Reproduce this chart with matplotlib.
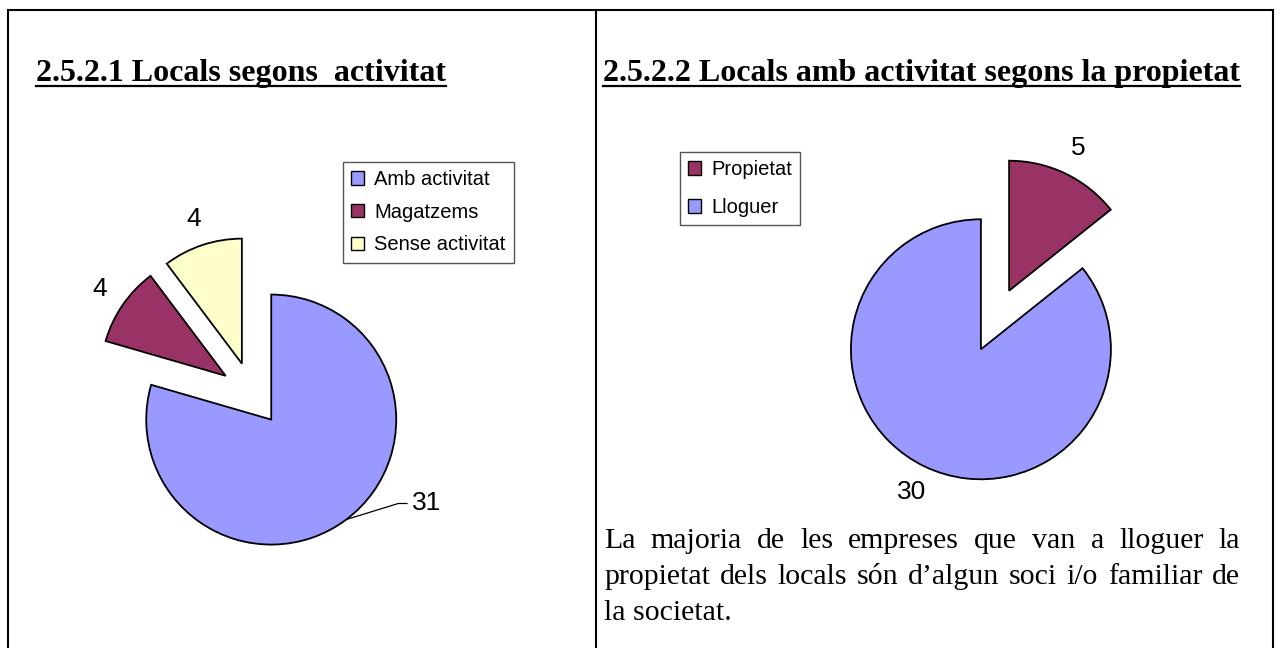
import numpy as np
import matplotlib
matplotlib.use('Agg')
import matplotlib.pyplot as plt
from matplotlib.patches import Patch

W, H = 1280, 648

# chart data
left_title = '2.5.2.1 Locals segons  activitat'
left_labels = ['Amb activitat', 'Magatzems', 'Sense activitat']
left_values = [31, 4, 4]
left_colors = ['#9999FF', '#993366', '#FFFFCC']

right_title = '2.5.2.2 Locals amb activitat segons la propietat'
right_labels = ['Propietat', 'Lloguer']
right_values = [5, 30]
right_colors = ['#993366', '#9999FF']

note_lines = ['La majoria de les empreses que van a lloguer la',
              'propietat dels locals són d\u2019algun soci i/o familiar de',
              'la societat.']

fig = plt.figure(figsize=(W / 100, H / 100), dpi=100)
ov = fig.add_axes([0, 0, 1, 1])
ov.set_xlim(0, W)
ov.set_ylim(H, 0)
ov.axis('off')

# table borders (no bottom line, it is cut off)
ov.plot([8, 8, 1273, 1273], [H, 10, 10, H], color='black', lw=1.5,
        solid_joinstyle='miter')
ov.plot([596, 596], [10, H], color='black', lw=1.5)

fig.canvas.draw()
rend = fig.canvas.get_renderer()


def underlined(x, y, s):
    t = ov.text(x, y, s, family='Liberation Serif', weight='bold',
                fontsize=23, ha='left', va='baseline')
    w = t.get_window_extent(renderer=rend).width
    ov.plot([x, x + w], [y + 5, y + 5], color='black', lw=1.6)


underlined(36, 81, left_title)
underlined(603, 81, right_title)

# justified paragraph
x0, x1 = 604, 1240
for i, line in enumerate(note_lines):
    y = 548 + i * 36
    if i == len(note_lines) - 1:
        ov.text(x0, y, line, family='Liberation Serif', fontsize=21.5, va='baseline')
        continue
    words = line.split(' ')
    ts = [ov.text(0, y, w, family='Liberation Serif', fontsize=21.5, va='baseline')
          for w in words]
    widths = [t.get_window_extent(renderer=rend).width for t in ts]
    gap = (x1 - x0 - sum(widths)) / (len(words) - 1)
    x = x0
    for t, w in zip(ts, widths):
        t.set_x(x)
        x += w + gap


def pie_panel(cx, cy, rad, values, colors, expl):
    half = 230
    ax = fig.add_axes([(cx - half) / W, (H - cy - half) / H, 2 * half / W, 2 * half / H])
    wedges, texts = ax.pie(values, colors=colors, explode=[expl] * len(values),
                           startangle=90, counterclock=False,
                           labels=[str(v) for v in values], labeldistance=1.22,
                           wedgeprops=dict(edgecolor='black', linewidth=1.3),
                           textprops=dict(family='Liberation Sans', fontsize=19,
                                          ha='center', va='center'))
    lim = half / rad
    ax.set_xlim(-lim, lim)
    ax.set_ylim(-lim, lim)
    ax.set_aspect('auto')
    ax.patch.set_visible(False)
    return ax, wedges, texts


def add_legend(ax, labels, colors, x, y, spacing):
    handles = [Patch(facecolor=c, edgecolor='black', lw=1) for c in colors]
    leg = ax.legend(handles, labels, loc='upper left', bbox_to_anchor=(x / W, 1 - y / H),
                    bbox_transform=fig.transFigure, borderaxespad=0,
                    prop=dict(family='Liberation Sans', size=14.5),
                    handlelength=0.65, handleheight=0.65, handletextpad=0.5,
                    borderpad=0.4, labelspacing=spacing, fancybox=False,
                    edgecolor='#555555', framealpha=1)
    leg.get_frame().set_linewidth(1)


# left pie
axl, wl, tl = pie_panel(252, 394, 125, left_values, left_colors, 0.256)
add_legend(axl, left_labels, left_colors, 343, 162, 0.68)
w0 = wl[0]
th = np.radians((w0.theta1 + w0.theta2) / 2)
px = w0.center[0] + w0.r * np.cos(th)
py = w0.center[1] + w0.r * np.sin(th)
tx, ty = 1.28, -0.876
tl[0].set_position((tx, ty))
tl[0].set_ha('left')
axl.plot([px, tx - 0.11, tx - 0.04], [py, ty, ty], color='black', lw=0.9)

# right pie
axr, wr, tr = pie_panel(995, 320, 130, right_values, right_colors, 0.25)
add_legend(axr, right_labels, right_colors, 680, 152, 0.95)

fig.savefig('out.png', dpi=100)
